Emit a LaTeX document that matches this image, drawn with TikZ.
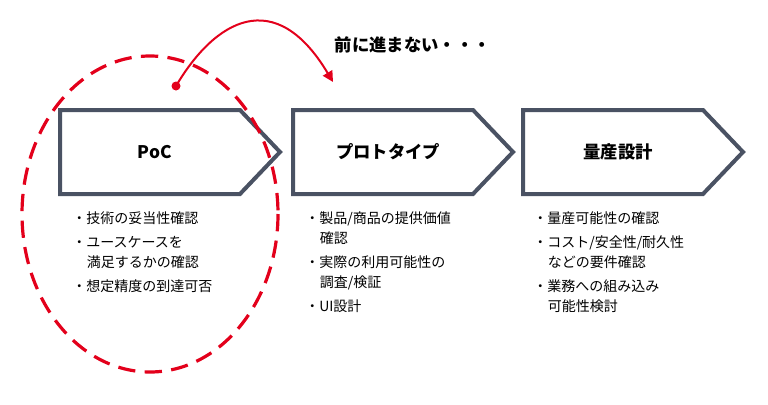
\documentclass[tikz,border=0pt]{standalone}
\usepackage{fontspec}
\setmainfont{Noto Sans CJK JP}
\usetikzlibrary{positioning,arrows.meta}
\definecolor{slate}{HTML}{4A5263}
\definecolor{alertred}{HTML}{E3001B}
\tikzset{
  chev/.style={draw=slate, line width=3pt, fill=white, line join=miter},
  stage/.style={font=\bfseries\fontsize{13}{15}\selectfont},
  items/.style={anchor=north west, align=left, font=\fontsize{10.5}{15}\selectfont, inner sep=0pt},
}
\begin{document}
\begin{tikzpicture}[x=0.75pt, y=-0.75pt]
  \useasboundingbox (0,0) rectangle (768,404);
  % chevrons
  \foreach \x/\n in {60/a, 293/b, 523/c} {
    \draw [chev] (\x,110) -- (\x+180,110) -- (\x+220,152) -- (\x+180,194) -- (\x,194) -- cycle;
    \coordinate (\n) at (\x+95,152);
  }
  \node [stage] (poc) at (a) {PoC};
  \node [stage] (proto) at (b) {プロトタイプ};
  \node [stage] (mass) at (c) {量産設計};
  % lists
  \node [items] (lista) at (72,211) {・技術の妥当性確認\\[3pt]・ユースケースを\\\hspace{1.05em}満足するかの確認\\[3pt]・想定精度の到達可否};
  \node [items] (listb) at (305,211) {・製品/商品の提供価値\\\hspace{1.05em}確認\\[3pt]・実際の利用可能性の\\\hspace{1.05em}調査/検証\\[3pt]・UI設計};
  \node [items] (listc) at (533,211) {・量産可能性の確認\\[3pt]・コスト/安全性/耐久性\\\hspace{1.05em}などの要件確認\\[3pt]・業務への組み込み\\\hspace{1.05em}可能性検討};
  % red marks
  \draw [alertred, line width=2.4pt, dash pattern=on 13pt off 7pt] (150,214) ellipse [x radius=128, y radius=158];
  \coordinate (start) at (176,86);
  \coordinate (stop) at (333,82);
  \fill [alertred] (start) circle (4.5);
  \draw [alertred, line width=1.5pt, -{Triangle[length=8pt,width=8pt]}] (start) .. controls (215,20) and (275,-15) .. (stop);
  \node [font=\bfseries\fontsize{13}{15}\selectfont, anchor=west] (stuck) at (330,45) {前に進まない・・・};
\end{tikzpicture}
\end{document}
